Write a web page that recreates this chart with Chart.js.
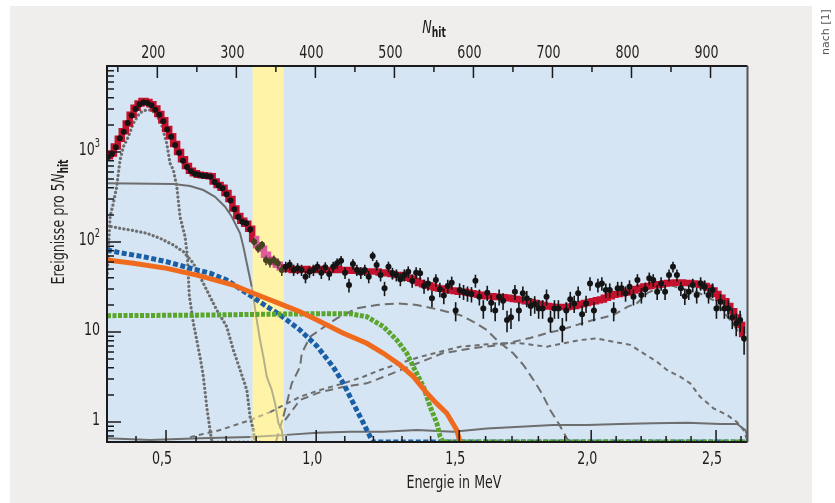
<!DOCTYPE html>
<html>
<head>
<meta charset="utf-8">
<script src="https://cdn.jsdelivr.net/npm/chart.js@4.4.0/dist/chart.umd.min.js"></script>
<style>
  html, body { margin: 0; padding: 0; background: #fff; }
</style>
</head>
<body>
<canvas id="spectrum" width="835" height="503"></canvas>
<script>
// histogram bins: 5 N_hit wide, first bin centre at 137.5
var binFirst = 137.5;
var binWidth = 5;

// measured events per bin
var dataCounts = [
  880, 960, 1130, 1420, 1680, 2100, 2550, 3000, 3400, 3550,
  3500, 3300, 2950, 2600, 2200, 1780, 1480, 1200, 980, 800,
  680, 610, 575, 560, 545, 540, 530, 465, 425, 395,
  340, 290, 232, 190, 168, 162, 138,
  101, 85, 93, 63, 60, 63, 58, 49, 53, 56, 49, 51,
  48.9, 41.2, 46.8, 48.9, 53.2, 45.6, 52.3, 44.1, 53.2, 58,
  62, 45.6, 33.3, 57, 48.9, 45.6, 48.9, 41.2, 69.8, 55.5,
  43, 30.6, 53.2, 44.9, 43, 38.5, 43, 46.8, 37.2, 45.6,
  44.9, 32.4, 34.7, 23.7, 37.8, 29.8, 25.4, 32.4, 35.3, 17.3,
  29.3, 28, 26.9, 26.4, 37.2, 24.7,
  18.3, 27.4, 21.2, 17.3, 24.7, 22.3, 13.6, 14.6, 28, 17.3,
  26.9, 23.7, 19.5, 20.5, 18.3, 18.3, 24.7, 13.6, 18.3, 18.3,
  11, 17.3, 23.1, 20.8, 26.9, 15.8, 20.8, 34.7, 17.3, 33.3,
  34.7, 29.3, 29.3, 17.3, 30.6, 30.6, 26.9, 31.9, 24.7, 37.8,
  25.8, 29.8, 39.5, 37.8, 28, 34.7, 28, 43, 53.2, 43,
  30.6, 25, 28, 33.3, 25.8, 34.7, 31.9, 25.8, 29.3, 18.3,
  21.7, 18.3, 18.3, 14.6, 12.5, 13.6, 8.5
];

// total fit, same bins
var fitTotal = [
  900, 960, 1150, 1400, 1700, 2080, 2600, 3100, 3450, 3700,
  3600, 3400, 3050, 2650, 2250, 1800, 1500, 1230, 1000, 830,
  700, 620, 580, 560, 552, 545, 538, 470, 430, 400,
  350, 300, 235, 195, 172, 160, 140, 108, 92, 84,
  72, 64, 60, 56, 52, 50,
  50, 49, 49, 50, 50, 49, 49, 50, 50, 49, 49, 49, 50, 49, 49, 49, 48, 48, 47, 47,
  47, 47, 47, 46, 46, 45, 44, 43, 43, 42,
  40, 39, 37, 35, 34, 33, 32, 31, 30.5,
  30, 29.5, 29, 28.5, 28, 28, 27.5, 27, 26.5, 26, 25.5, 25, 25, 24.7, 24.5,
  24.3, 24, 23.7, 23.3, 23, 22.5, 22, 21.5, 21, 20.5, 20, 19.5, 19.2, 19, 19, 19,
  19, 19.2, 19.5, 20, 20.5, 21, 21.5, 22, 22.5, 23, 24, 25, 26,
  26.5, 27, 27.5, 28, 29, 30, 31, 32, 32.5, 33, 33.5, 34, 34.5, 35, 35.3,
  35.5, 35.5, 35, 35, 34.7, 34.3, 33.5, 32.5, 31, 29,
  26.5, 24, 22, 19.5, 17, 14.5, 12, 9.5
];

// fit components (N_hit, value)
var poN   = [136.5, 139, 140.2, 144.3, 148.6, 152.8, 157, 163.3, 169.6, 176, 181, 186.6, 192.9, 199.2, 205.6, 211.9, 216.1, 220.3, 224.6, 228.7, 235.1, 238, 240.5, 245.6, 249.9, 254, 258.2, 262.5, 266.7, 269, 330];
var poVal = [40, 120, 191, 269, 411, 815, 1145, 1479, 2085, 2576, 2850, 2930, 2930, 2576, 1995, 1250, 749, 631, 411, 191, 115, 69, 25, 12.5, 8.1, 5.3, 3.2, 1.48, 0.81, 0.6, 0.6];

var krN   = [136.3, 152.8, 169.6, 186.6, 203.4, 220.3, 233, 245.6, 258.2, 266.7, 275.2, 287.8, 296.2, 304.7, 313.2, 317.3, 321.5, 323.7, 335];
var krVal = [152, 142, 134, 125, 110, 92.6, 78, 58, 34.8, 24.7, 17.6, 11.5, 6.3, 3.8, 2.27, 1.15, 0.81, 0.6, 0.6];

var beN   = [136.3, 220.3, 241.4, 258.2, 273, 285.7, 294.2, 300.5, 304.7, 308.9, 313.2, 319.5, 325.8, 330, 334.2, 338.5, 344.8, 349, 353.2, 357.5, 359.5];
var beVal = [449, 441, 419, 378, 318, 247, 191, 148, 125, 88.7, 58, 31.9, 13.6, 8.15, 5.3, 3.19, 2.27, 1.61, 0.97, 0.81, 0.6];

var biN   = [136.3, 152.8, 182.3, 211.9, 237.2, 266.7, 287.8, 313.2, 338.5, 355.3, 380.6, 401.8, 422.4, 435.4, 448.1, 460.8, 469.2, 473, 946.8];
var biVal = [81.5, 76, 68.7, 60.4, 52.4, 45, 37.8, 27, 19.2, 15.5, 10.5, 7, 4.11, 2.69, 1.61, 0.97, 0.69, 0.6, 0.6];

var cnoN   = [136.3, 169.6, 211.9, 254, 296.2, 321.5, 359.5, 380.6, 405.9, 435.4, 465, 486, 507.2, 524, 541, 553.7, 566.3, 579, 583];
var cnoVal = [63, 58, 51, 42, 33.3, 27, 19.9, 16.8, 13.1, 9.7, 7.5, 5.8, 4.3, 3.2, 2.1, 1.6, 1.25, 0.81, 0.6];

var pepN   = [136.3, 250, 350, 420, 443.9, 465, 486, 503, 515.7, 524, 536.7, 545.2, 553.7, 557.8, 561.6, 946.8];
var pepVal = [15.2, 15.4, 15.8, 16, 16, 14.8, 11.5, 8.15, 5.8, 4.1, 2.47, 1.48, 0.97, 0.69, 0.6, 0.6];

var c11N   = [350, 359.5, 370.1, 380.6, 382.8, 393.3, 427.1, 452.4, 477.7, 503, 528.4, 557.8, 583.2, 600, 617, 629.6, 650.3, 663.3, 676, 686.6, 697.1, 707.6, 718.2, 722];
var c11Val = [0.6, 1.15, 2.69, 4.11, 5.8, 8.87, 14.2, 18.3, 20, 20.8, 20, 17.6, 15.4, 13, 10.5, 8.15, 5.8, 4.3, 2.93, 2.08, 1.36, 0.97, 0.66, 0.6];

var extN   = [241.4, 279.4, 317.3, 342.7, 380.6, 406, 435.4, 460.8, 481.9, 507.2, 532.5, 557.8, 583.2, 608.5, 633.8, 659.1, 692.9, 735, 756.1, 777.2, 798.4, 815.2, 832.2, 844.8, 861.6, 874.3, 886.8, 903.8, 920.8, 933.4, 941.8, 946.5];
var extVal = [0.68, 0.815, 1.05, 1.29, 1.91, 2.27, 2.69, 3.19, 3.79, 4.5, 5.3, 6.04, 6.87, 7.2, 7.5, 7.5, 6.87, 8.15, 8.5, 7.8, 7.2, 5.8, 4.67, 3.79, 3.19, 2.69, 1.91, 1.42, 1.2, 1.0, 0.815, 0.63];

var tlN   = [361.6, 380.6, 406, 435, 465, 485.7, 523.7, 561.6, 599.6, 633.8, 671.8, 693, 709.5, 731, 751.5, 777, 794.6, 807.2, 819.9, 832.5, 849, 861.6, 883, 903.5, 925, 946.5];
var tlVal = [1.05, 1.76, 2.15, 2.45, 2.69, 3.16, 4.3, 5.84, 6.6, 7.2, 8.6, 9.7, 10.5, 12, 13.6, 15.4, 19, 21, 27, 30.6, 33.3, 30.6, 27.8, 22.7, 13.6, 7.2];

var lowN   = [136.3, 190.8, 254, 317.3, 363.8, 401.8, 444, 485.7, 528.4, 574.3, 617, 659.1, 700.9, 743.9, 785.7, 827.5, 870.5, 912.3, 933.8, 944, 946.8];
var lowVal = [0.66, 0.63, 0.66, 0.68, 0.72, 0.76, 0.78, 0.78, 0.815, 0.78, 0.85, 0.886, 0.926, 0.926, 0.95, 0.97, 0.98, 0.95, 0.95, 0.815, 0.7];

// axes
var nhitTicks = [200, 300, 400, 500, 600, 700, 800, 900];
var nhitMinor = [150, 250, 350, 450, 550, 650, 750, 850];
var energyLabels = ['0,5', '1,0', '1,5', '2,0', '2,5'];
var energyTickNhit = [211, 401, 582, 749, 907];
var yTickVals = [1, 10, 100, 1000];
var yTickLabels = [['1', ''], ['10', ''], ['10', '2'], ['10', '3']];
var bandNhit = [320.5, 360];

var xMin = 136.3, xMax = 946.8;
var fam = '"DejaVu Sans Condensed", "DejaVu Sans", sans-serif';
var squeeze = 0.76;   // the original uses a condensed face

function pairs(xs, ys) {
  return xs.map(function (x, i) { return { x: x, y: ys[i] }; });
}
function binned(ys) {
  return ys.map(function (y, i) { return { x: binFirst + i * binWidth, y: y }; });
}
function inBand(x) {
  return x > bandNhit[0] && x < bandNhit[1];
}
function segInBand(ctx) {
  return inBand((ctx.p0.parsed.x + ctx.p1.parsed.x) / 2);
}
function greyLine(xs, ys, dash, cap, width) {
  return {
    data: pairs(xs, ys),
    xAxisID: 'nhit',
    yAxisID: 'y',
    borderColor: '#6e6e6e',
    borderWidth: width || 2,
    borderDash: dash,
    borderCapStyle: cap || 'butt',
    pointRadius: 0,
    order: 6,
    segment: { borderColor: function (ctx) { return segInBand(ctx) ? '#b4b08c' : undefined; } }
  };
}

// text runs drawn narrow; align: 0 = centre, 1 = right edge at origin
function drawRuns(c, runs, align) {
  var w = 0;
  runs.forEach(function (r) { c.font = r.font; w += c.measureText(r.text).width; });
  c.scale(squeeze, 1);
  var x = align === 1 ? -w : -w / 2;
  runs.forEach(function (r) {
    c.font = r.font;
    c.fillText(r.text, x, r.dy || 0);
    x += c.measureText(r.text).width;
  });
}
function textAt(c, x, y, runs, align) {
  c.save();
  c.translate(x, y);
  drawRuns(c, runs, align);
  c.restore();
}

var decorations = {
  id: 'decorations',
  beforeDraw: function (chart) {
    var c = chart.ctx, a = chart.chartArea;
    c.save();
    c.fillStyle = '#ffffff';
    c.fillRect(0, 0, chart.width, chart.height);
    c.fillStyle = '#efeeec';
    c.fillRect(10, 6, 802, 497);
    c.fillStyle = '#d5e5f4';
    c.fillRect(a.left, a.top, a.right - a.left, a.bottom - a.top);
    c.restore();
  },
  beforeDatasetsDraw: function (chart) {
    var c = chart.ctx, a = chart.chartArea, xs = chart.scales.nhit;
    var l = xs.getPixelForValue(bandNhit[0]), r = xs.getPixelForValue(bandNhit[1]);
    c.save();
    c.fillStyle = '#fff3a8';
    c.fillRect(l, a.top, r - l, a.bottom - a.top);
    c.restore();
  },
  beforeDatasetDraw: function (chart, args) {
    if (args.meta.index !== 0) return;
    var c = chart.ctx, xs = chart.scales.nhit, ys = chart.scales.y;
    c.save();
    c.lineWidth = 1.6;
    dataCounts.forEach(function (v, i) {
      var n = binFirst + i * binWidth;
      var e = Math.sqrt(v); // Poisson error
      var px = xs.getPixelForValue(n);
      c.strokeStyle = inBand(n) ? '#4a4826' : '#161616';
      c.beginPath();
      c.moveTo(px, ys.getPixelForValue(v + e));
      c.lineTo(px, ys.getPixelForValue(Math.max(v - e, 0.6)));
      c.stroke();
    });
    c.restore();
  },
  afterDatasetsDraw: function (chart) {
    var c = chart.ctx, a = chart.chartArea, xs = chart.scales.nhit, ys = chart.scales.y;
    c.save();
    c.strokeStyle = '#1a1a1a';
    c.lineWidth = 1.5;
    c.beginPath();
    nhitTicks.forEach(function (v) {
      var p = xs.getPixelForValue(v);
      c.moveTo(p, a.top); c.lineTo(p, a.top + 12);
    });
    nhitMinor.forEach(function (v) {
      var p = xs.getPixelForValue(v);
      if (p <= a.left + 1) return;
      c.moveTo(p, a.top); c.lineTo(p, a.top + 6);
    });
    // energy ticks (bottom)
    energyTickNhit.forEach(function (v) {
      var p = xs.getPixelForValue(v);
      c.moveTo(p, a.bottom); c.lineTo(p, a.bottom - 12);
    });
    var minorE = [];
    for (var k = 0; k < energyTickNhit.length - 1; k++) {
      var d = (energyTickNhit[k + 1] - energyTickNhit[k]) / 5;
      for (var j = 1; j < 5; j++) minorE.push(energyTickNhit[k] + j * d);
    }
    var d0 = (energyTickNhit[1] - energyTickNhit[0]) / 5;
    minorE.push(energyTickNhit[0] - d0, energyTickNhit[0] - 2 * d0);
    var dl = (energyTickNhit[4] - energyTickNhit[3]) / 5;
    minorE.push(energyTickNhit[4] + dl);
    minorE.forEach(function (v) {
      var p = xs.getPixelForValue(v);
      if (p <= a.left + 1 || p >= a.right - 1) return;
      c.moveTo(p, a.bottom); c.lineTo(p, a.bottom - 6);
    });
    // y ticks
    [0.1, 1, 10, 100, 1000].forEach(function (base) {
      for (var m = 1; m < 10; m++) {
        var v = base * m;
        if (v < ys.min || v > ys.max) continue;
        var p = ys.getPixelForValue(v);
        var len = (m === 1) ? 14 : 7;
        c.moveTo(a.left, p); c.lineTo(a.left + len, p);
      }
    });
    c.stroke();
    // frame
    c.lineWidth = 2;
    c.beginPath();
    c.moveTo(a.right, a.top); c.lineTo(a.left, a.top); c.lineTo(a.left, a.bottom); c.lineTo(a.right, a.bottom);
    c.stroke();
    c.strokeStyle = '#555555';
    c.beginPath();
    c.moveTo(a.right, a.top); c.lineTo(a.right, a.bottom);
    c.stroke();
    c.restore();
  },
  afterDraw: function (chart) {
    var c = chart.ctx, a = chart.chartArea, xs = chart.scales.nhit, ys = chart.scales.y;
    var big = '18.5px ' + fam, small = '12px ' + fam;
    c.save();
    c.fillStyle = '#1e1e1e';
    c.textBaseline = 'alphabetic';
    c.textAlign = 'left';
    // tick labels, placed by the scales
    nhitTicks.forEach(function (v) {
      textAt(c, xs.getPixelForValue(v) - 4, 58, [{ text: String(v), font: big }], 0);
    });
    energyTickNhit.forEach(function (v, i) {
      textAt(c, xs.getPixelForValue(v) - 4, 464, [{ text: energyLabels[i], font: big }], 0);
    });
    yTickVals.forEach(function (v, i) {
      var lab = yTickLabels[i];
      textAt(c, a.left - 7, ys.getPixelForValue(v) + 3, [
        { text: lab[0], font: big },
        { text: lab[1], font: small, dy: -8 }
      ], 1);
    });
    // axis titles
    textAt(c, 454, 488, [{ text: 'Energie in MeV', font: big }], 0);
    textAt(c, 434, 33, [
      { text: 'N', font: 'italic ' + big },
      { text: 'hit', font: 'bold 13.5px ' + fam, dy: 4 }
    ], 0);
    c.save();
    c.translate(64, 222);
    c.rotate(-Math.PI / 2);
    drawRuns(c, [
      { text: 'Ereignisse pro 5', font: big },
      { text: 'N', font: 'italic ' + big },
      { text: 'hit', font: 'bold 13.5px ' + fam, dy: 4 }
    ], 0);
    c.restore();
    // source note
    c.save();
    c.fillStyle = '#555555';
    c.translate(829, 32);
    c.rotate(-Math.PI / 2);
    c.font = '11px "DejaVu Sans", sans-serif';
    c.textAlign = 'center';
    c.fillText('nach [1]', 0, 0);
    c.restore();
    c.restore();
  }
};

new Chart(document.getElementById('spectrum'), {
  type: 'line',
  data: {
    datasets: [
      {
        data: binned(dataCounts),
        xAxisID: 'nhit',
        yAxisID: 'y',
        showLine: false,
        pointRadius: 3,
        pointBorderWidth: 0,
        pointBackgroundColor: function (ctx) {
          return inBand(binFirst + ctx.dataIndex * binWidth) ? '#45431f' : '#141414';
        },
        order: 0
      },
      {
        data: binned(fitTotal),
        xAxisID: 'nhit',
        yAxisID: 'y',
        stepped: 'middle',
        borderColor: '#c4112d',
        borderWidth: 6.5,
        pointRadius: 0,
        order: 1,
        segment: { borderColor: function (ctx) { return segInBand(ctx) ? '#df5c9c' : undefined; } }
      },
      {
        data: pairs(cnoN, cnoVal),
        xAxisID: 'nhit',
        yAxisID: 'y',
        borderColor: '#f06a1e',
        borderWidth: 5,
        pointRadius: 0,
        order: 2
      },
      {
        data: pairs(pepN, pepVal),
        xAxisID: 'nhit',
        yAxisID: 'y',
        borderColor: '#5aa62c',
        borderWidth: 5,
        borderDash: [4, 1.5],
        pointRadius: 0,
        order: 3
      },
      {
        data: pairs(biN, biVal),
        xAxisID: 'nhit',
        yAxisID: 'y',
        borderColor: '#1a5fa6',
        borderWidth: 5,
        borderDash: [5, 2.5],
        pointRadius: 0,
        order: 4
      },
      greyLine(poN, poVal, [0.1, 4.2], 'round', 3.2),
      greyLine(krN, krVal, [0.1, 4.2], 'round', 3.2),
      greyLine(beN, beVal, [], 'butt', 2),
      greyLine(c11N, c11Val, [9, 5], 'butt', 2),
      greyLine(extN, extVal, [5, 4], 'butt', 2),
      greyLine(tlN, tlVal, [8, 5], 'butt', 2),
      greyLine(lowN, lowVal, [], 'butt', 2)
    ]
  },
  options: {
    responsive: false,
    animation: false,
    devicePixelRatio: 1,
    layout: { padding: { left: 0, right: 87.5, top: 0, bottom: 0 } },
    plugins: { legend: { display: false }, tooltip: { enabled: false } },
    scales: {
      nhit: {
        type: 'linear',
        position: 'top',
        min: xMin,
        max: xMax,
        grid: { display: false, drawTicks: false },
        border: { display: false },
        ticks: { display: false },
        afterBuildTicks: function (s) { s.ticks = nhitTicks.map(function (v) { return { value: v }; }); },
        afterFit: function (s) { s.height = 66; }
      },
      energy: {
        type: 'linear',
        position: 'bottom',
        min: xMin,
        max: xMax,
        grid: { display: false, drawTicks: false },
        border: { display: false },
        ticks: { display: false },
        afterBuildTicks: function (s) { s.ticks = energyTickNhit.map(function (v) { return { value: v }; }); },
        afterFit: function (s) { s.height = 61; }
      },
      y: {
        type: 'logarithmic',
        position: 'left',
        min: 0.6,
        max: 9030,
        grid: { display: false, drawTicks: false },
        border: { display: false },
        ticks: { display: false },
        afterBuildTicks: function (s) { s.ticks = yTickVals.map(function (v) { return { value: v }; }); },
        afterFit: function (s) { s.width = 107; }
      }
    }
  },
  plugins: [decorations]
});
</script>
</body>
</html>
